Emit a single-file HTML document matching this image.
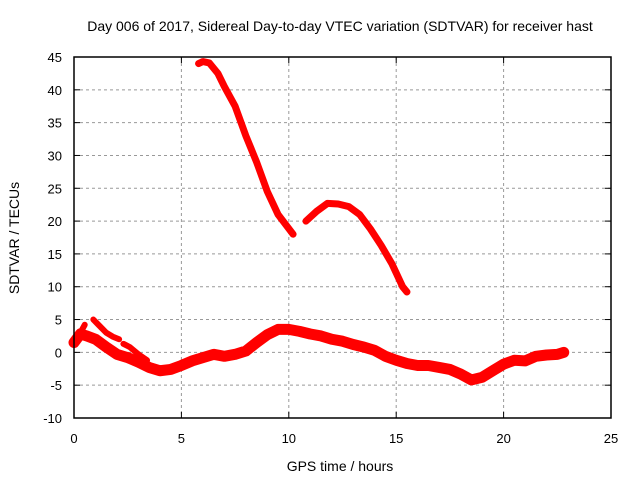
<!DOCTYPE html>
<html><head><meta charset="utf-8"><style>
body{margin:0;background:#fff}
svg{display:block;font-family:"Liberation Sans",sans-serif}
</style></head><body>
<svg id="chart" width="640" height="480">
<text x="340" y="31" font-size="14" text-anchor="middle">Day 006 of 2017, Sidereal Day-to-day VTEC variation (SDTVAR) for receiver hast</text>
<text x="340" y="471" font-size="14" text-anchor="middle">GPS time / hours</text>
<text transform="translate(19,238) rotate(-90)" font-size="14" text-anchor="middle">SDTVAR / TECUs</text>
<g id="grid"></g><g id="series"></g>
<rect x="74" y="57" width="537" height="361" fill="none" stroke="#000" stroke-width="1.5"/>
</svg>
<script>
const xTicks=[0,5,10,15,20,25];
const yTicks=[-10,-5,0,5,10,15,20,25,30,35,40,45];
const segLowT=[0,0.3,0.6,1,1.5,2,2.5,3,3.5,4,4.5,5,5.5,6,6.5,7,7.5,8,8.5,9,9.5,10,10.5,11,11.5,12,12.5,13,13.5,14,14.5,15,15.5,16,16.5,17,17.5,18,18.5,19,19.5,20,20.5,21,21.5,22,22.5,22.8];
const segLowV=[1.5,2.8,2.5,2.0,0.8,-0.3,-0.8,-1.5,-2.3,-2.8,-2.6,-2.0,-1.3,-0.8,-0.3,-0.6,-0.3,0.2,1.5,2.7,3.5,3.5,3.2,2.8,2.5,2.0,1.7,1.2,0.8,0.3,-0.6,-1.2,-1.7,-2.0,-2.0,-2.3,-2.6,-3.3,-4.2,-3.8,-2.8,-1.8,-1.2,-1.3,-0.6,-0.4,-0.3,0];
const segBT=[0.1,0.3,0.5];
const segBV=[1.8,3.0,4.2];
const segCT=[0.9,1.2,1.5,1.8,2.1];
const segCV=[5.0,4.0,3.0,2.4,2.0];
const segDT=[2.3,2.6,3.0,3.4];
const segDV=[1.3,0.8,-0.3,-1.2];
const segET=[5.8,6.0,6.3,6.7,7.0,7.5,8.0,8.5,9.0,9.5,10.2];
const segEV=[44,44.3,44.1,42.5,40.5,37.5,33,29,24.5,21,18];
const segFT=[10.8,11.3,11.8,12.3,12.8,13.3,13.8,14.3,14.8,15.3,15.5];
const segFV=[20,21.5,22.7,22.6,22.2,21,18.8,16.3,13.5,10,9.2];
const X=t=>74+t*537/25, Y=v=>57+(45-v)*361/55;
const NS="http://www.w3.org/2000/svg";
const grid=document.getElementById('grid'), series=document.getElementById('series'), svg=document.getElementById('chart');
function mk(tag,attrs,parent){const e=document.createElementNS(NS,tag);for(const k in attrs)e.setAttribute(k,attrs[k]);parent.appendChild(e);return e;}
xTicks.forEach(t=>{
  if(t>0&&t<25){const g=mk('line',{x1:X(t),x2:X(t),y1:57,y2:418,stroke:'#999','stroke-dasharray':'3,3'},grid);
  
  }
  const tx=mk('text',{x:X(t),y:443,'font-size':13,'text-anchor':'middle'},svg);tx.textContent=t;
  
  
  mk('line',{x1:X(t),x2:X(t),y1:418,y2:412,stroke:'#000'},grid);mk('line',{x1:X(t),x2:X(t),y1:57,y2:63,stroke:'#000'},grid);
});
yTicks.forEach(v=>{
  if(v>-10&&v<45){const g=mk('line',{x1:74,x2:611,y1:Y(v),y2:Y(v),stroke:'#999','stroke-dasharray':'3,3'},grid);
  
  }
  const tx=mk('text',{x:62,y:Y(v)+5,'font-size':13,'text-anchor':'end'},svg);tx.textContent=v;
  
  
  mk('line',{x1:74,x2:80,y1:Y(v),y2:Y(v),stroke:'#000'},grid);mk('line',{x1:605,x2:611,y1:Y(v),y2:Y(v),stroke:'#000'},grid);
});
[[segLowT,segLowV,11],[segBT,segBV,6],[segCT,segCV,6],[segDT,segDV,6],[segET,segEV,7],[segFT,segFV,7]].forEach(([ts,vs,w])=>{
  const p=mk('polyline',{points:ts.map((t,i)=>X(t)+','+Y(vs[i])).join(' '),fill:'none',stroke:'#f00','stroke-width':w,'stroke-linejoin':'round','stroke-linecap':'round'},series);
  
  
});
</script>
</body></html>
